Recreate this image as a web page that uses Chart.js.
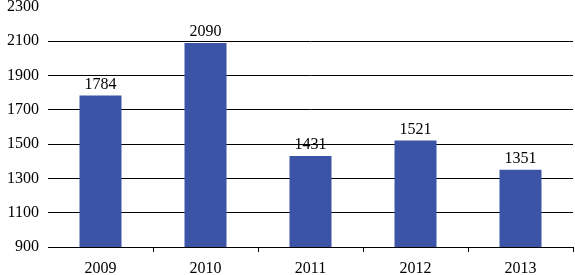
<!DOCTYPE html>
<html><head><meta charset="utf-8">
<script src="https://cdn.jsdelivr.net/npm/chart.js@4"></script>
<style>html,body{margin:0;padding:0;background:#fff}#w{width:575px;height:275px}</style>
</head><body><div id="w"><canvas id="c"></canvas></div>
<script>
const categories = ['2009','2010','2011','2012','2013'];
const values = [1784, 2090, 1431, 1521, 1351];
const yMin = 900, yMax = 2300, yStep = 200;

const FONT = {family: '"Liberation Serif", "Times New Roman", serif', size: 16};

const labelPlugin = {
  id: 'barLabels',
  afterDatasetsDraw(chart) {
    const ctx = chart.ctx;
    const meta = chart.getDatasetMeta(0);
    ctx.save();
    ctx.font = FONT.size + 'px ' + FONT.family;
    ctx.fillStyle = '#000';
    ctx.textAlign = 'center';
    ctx.textBaseline = 'bottom';
    meta.data.forEach((bar, i) => {
      ctx.fillText(String(values[i]), bar.x, bar.y - 3);
    });
    ctx.restore();
  }
};

new Chart(document.getElementById('c'), {
  type: 'bar',
  data: {
    labels: categories,
    datasets: [{
      data: values,
      backgroundColor: '#3c54a5',
      borderWidth: 0,
      categoryPercentage: 0.8,
      barPercentage: 0.5
    }]
  },
  options: {
    responsive: true,
    maintainAspectRatio: false,
    animation: false,
    devicePixelRatio: 1,
    layout: {padding: {top: 7, right: 2, left: 0, bottom: 0}},
    plugins: {legend: {display: false}, tooltip: {enabled: false}},
    scales: {
      x: {
        offset: true,
        afterFit(s) { s.height = 28; },
        grid: {
          offset: true,
          drawOnChartArea: false,
          drawTicks: true,
          tickLength: 5,
          color: (c) => c.index === 0 ? 'rgba(0,0,0,0)' : '#000',
          lineWidth: 1
        },
        border: {display: true, color: '#000', width: 1},
        ticks: {color: '#000', font: FONT, padding: 7}
      },
      y: {
        min: yMin, max: yMax,
        afterFit(s) { s.width = 48; s.paddingTop = 0; s.paddingBottom = 0; },
        ticks: {stepSize: yStep, color: '#000', font: FONT, padding: 9, callback: (v) => String(v)},
        grid: {
          drawTicks: false,
          color: (c) => (c.tick.value === yMax || c.tick.value === yMin) ? 'rgba(0,0,0,0)' : '#000',
          lineWidth: 1
        },
        border: {display: false}
      }
    }
  },
  plugins: [labelPlugin]
});
</script>
</body></html>
